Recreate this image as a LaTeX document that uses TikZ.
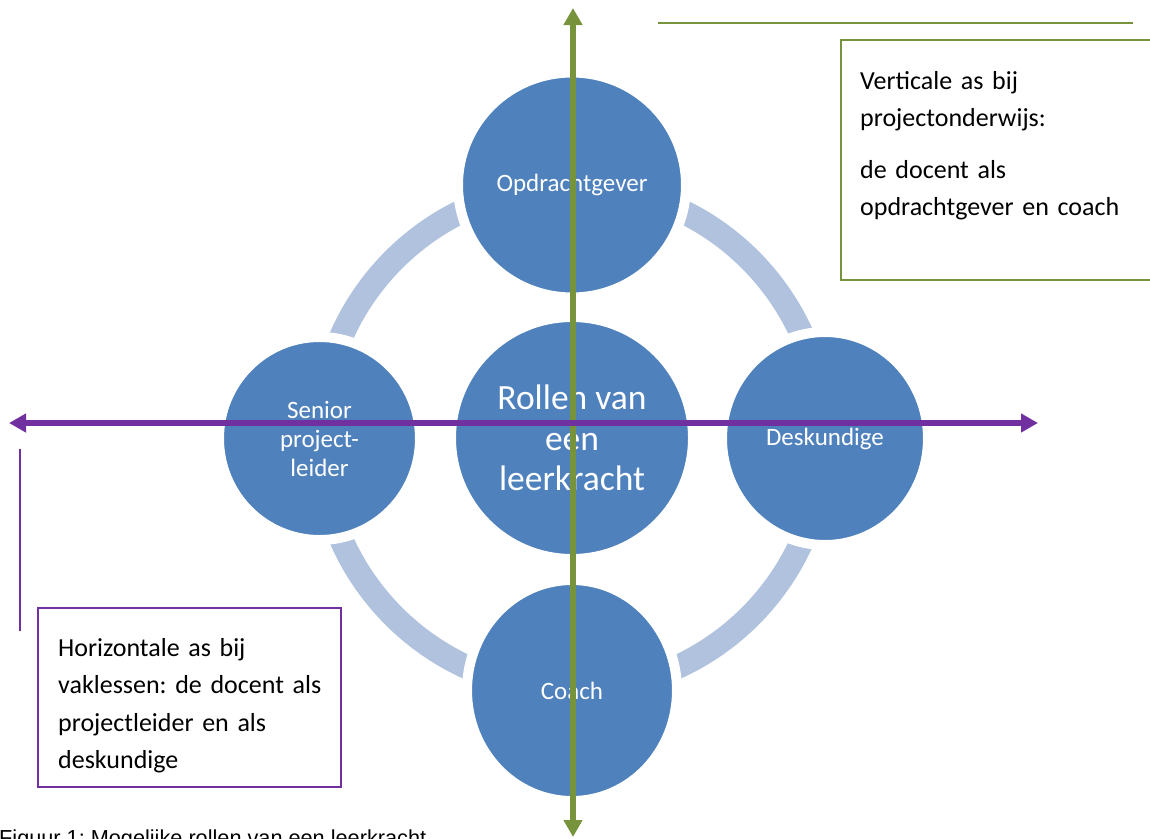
\documentclass[tikz,border=0pt]{standalone}
\usepackage{fontspec}
\setmainfont{Carlito}
\newfontfamily\capfont{Liberation Sans}
\usetikzlibrary{arrows.meta,shapes.geometric}
\definecolor{circblue}{RGB}{79,129,189}
\definecolor{arcblue}{RGB}{176,194,222}
\definecolor{olive}{RGB}{119,147,60}
\definecolor{purp}{RGB}{112,48,160}
\frenchspacing
\begin{document}
\begin{tikzpicture}[x=1pt,y=-1pt,
  role/.style={ellipse, fill=circblue, draw=white, line width=10pt, inner sep=0pt,
    text=white, align=center, font=\fontsize{25}{29}\selectfont},
  ringstyle/.style={draw=arcblue, line width=24pt},
  greenaxis/.style={draw=olive, line width=6.5pt,
    {Triangle[length=17pt,width=18pt]}-{Triangle[length=17pt,width=18pt]}},
  purpleaxis/.style={draw=purp, line width=6.5pt,
    {Triangle[length=17pt,width=18pt]}-{Triangle[length=17pt,width=18pt]}},
  greenbox/.style={draw=olive, line width=2pt, rectangle, inner sep=0pt, anchor=north west},
  purplebox/.style={draw=purp, line width=2pt, rectangle, inner sep=0pt, anchor=north west},
  boxtext/.style={anchor=base west, inner sep=0pt, text width=300pt, align=left,
    font=\fontsize{26}{37.5}\selectfont},
  thinline/.style={line width=2pt}
]
\useasboundingbox (0,0) rectangle (1150,838);

% ring behind the role circles
\coordinate (ringc) at (572,438);
\draw[ringstyle] (ringc) circle[radius=252];

% role circles
\node[role, minimum width=228, minimum height=225] (op) at (572,185) {Opdrachtgever};
\node[role, minimum width=201, minimum height=203] (sp) at (319.5,438.5) {Senior\\project-\\leider};
\node[role, minimum width=206, minimum height=213] (de) at (825,438.5) {Deskundige};
\node[role, minimum width=210, minimum height=221] (co) at (572,690.5) {Coach};
\node[role, minimum width=242, minimum height=242, font=\fontsize{35.5}{40.5}\selectfont] (ro) at (572,438) {Rollen van\\een\\leerkracht};

% axes
\coordinate (vtop) at (573,8);
\coordinate (vbot) at (573,837);
\coordinate (hl) at (9,423);
\coordinate (hr) at (1038,423);
\draw[greenaxis] (vtop) -- (vbot);
\draw[purpleaxis] (hl) -- (hr);

% green annotation
\coordinate (gl1) at (658,23);
\coordinate (gl2) at (1133,23);
\draw[thinline, draw=olive] (gl1) -- (gl2);
\node[greenbox, minimum width=330, minimum height=240] (gbox) at (840,39) {};
\node[boxtext] (gtext) at (860,89) {Verticale as bij\\projectonderwijs:\\[14pt]de docent als\\opdrachtgever en coach};

% purple annotation
\coordinate (pl1) at (20,449);
\coordinate (pl2) at (20,631);
\draw[thinline, draw=purp] (pl1) -- (pl2);
\node[purplebox, minimum width=303, minimum height=179] (pbox) at (37,607) {};
\node[boxtext] (ptext) at (58,656) {Horizontale as bij\\vaklessen: de docent als\\projectleider en als\\deskundige};

% caption
\node[anchor=base west, inner sep=0pt, font=\capfont\fontsize{21.7}{26}\selectfont] (cap) at (-1,845.5) {Figuur 1: Mogelijke rollen van een leerkracht};
\end{tikzpicture}
\end{document}
